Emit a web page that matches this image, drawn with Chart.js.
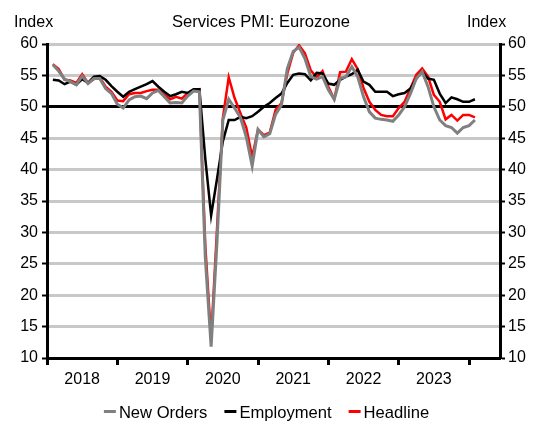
<!DOCTYPE html>
<html>
<head>
<meta charset="utf-8">
<script src="https://cdn.jsdelivr.net/npm/chart.js@4.4.1/dist/chart.umd.min.js"></script>
<style>
html,body{margin:0;padding:0;background:#fff;}
#wrap{width:533px;height:421px;position:relative;}
</style>
</head>
<body>
<div id="wrap"><canvas id="c" width="533" height="421"></canvas></div>
<script>
// ---- Data (monthly, Jan 2018 – Jan 2024) ----
const chartTitle = 'Services PMI: Eurozone';
const unitLabel = 'Index';
const yearLabels = ['2018', '2019', '2020', '2021', '2022', '2023'];
const yTickValues = [10, 15, 20, 25, 30, 35, 40, 45, 50, 55, 60];
const seriesNames = ['New Orders', 'Employment', 'Headline'];

const months = [];
for (let y = 2018; y <= 2024; y++) {
  for (let m = 1; m <= 12; m++) {
    if (y === 2024 && m > 1) break;
    months.push(y + '-' + String(m).padStart(2, '0'));
  }
}

const newOrders = [
  56.7, 55.7, 54.4, 54.0, 53.5, 54.9, 53.7, 54.5, 54.5, 52.9, 52.1, 50.4,
  49.8, 51.1, 51.6, 51.7, 51.3, 52.2, 52.6, 51.6, 50.6, 50.7, 50.6, 51.7,
  52.5, 52.4, 26.0, 11.8, 28.5, 47.9, 51.2, 49.8, 48.3, 45.2, 40.6, 46.4,
  45.2, 45.7, 48.8, 50.3, 56.1, 58.8, 59.5, 57.7, 54.8, 54.4, 54.8, 52.7,
  51.2, 54.5, 54.8, 56.4, 54.8, 51.6, 49.2, 48.2, 48.0, 47.9, 47.7, 48.7,
  50.0, 52.1, 54.5, 55.6, 53.2, 50.0, 47.9, 47.0, 46.7, 45.8, 46.7, 47.0,
  47.9
];
const employment = [
  54.3, 54.2, 53.6, 54.0, 53.5, 54.4, 53.8, 54.8, 54.9, 54.3, 53.3, 52.4,
  51.6, 52.4, 52.8, 53.2, 53.6, 54.1, 53.2, 52.4, 51.7, 52.0, 52.4, 52.2,
  52.8, 52.8, 41.8, 32.7, 38.5, 44.5, 47.9, 47.9, 48.4, 48.2, 48.5, 49.2,
  50.0, 50.6, 51.4, 52.1, 53.8, 55.1, 55.3, 55.2, 54.2, 55.4, 55.3, 53.7,
  53.5, 54.3, 54.8, 55.2, 55.9, 54.0, 53.5, 52.4, 52.4, 52.4, 51.7, 52.0,
  52.2, 52.9, 54.5, 55.6, 54.5, 54.3, 52.1, 50.6, 51.5, 51.2, 50.8, 50.8,
  51.2
];
const headline = [
  56.8, 56.0, 54.3, 54.2, 53.8, 55.2, 53.8, 54.4, 54.7, 53.2, 52.4, 51.0,
  50.9, 52.0, 52.2, 52.2, 52.5, 52.7, 52.7, 51.9, 51.2, 51.6, 51.3, 52.2,
  52.7, 52.8, 28.0, 13.0, 30.5, 48.2, 54.7, 51.4, 49.0, 46.7, 42.0, 46.4,
  45.5, 45.9, 49.5, 50.6, 55.3, 58.6, 59.8, 58.5, 55.8, 54.7, 55.7, 53.2,
  51.2, 55.5, 55.6, 57.6, 56.0, 53.0, 50.8, 49.5, 48.7, 48.5, 48.5, 49.8,
  50.8, 52.9, 55.1, 56.1, 54.8, 51.9, 50.8, 48.0, 48.7, 47.8, 48.7, 48.7,
  48.3
];

// ---- Build chart ----
const FONT = '"Liberation Sans", Arial, Helvetica, sans-serif';
// month label -> position on the linear time axis (end of month)
const monthPos = s => { const [y, m] = s.split('-').map(Number); return y + m / 12; };
const toXY = arr => arr.map((v, i) => ({ x: monthPos(months[i]), y: v }));

const headerAndLegend = {
  id: 'headerAndLegend',
  afterDraw(chart) {
    const ctx = chart.ctx;
    ctx.save();
    ctx.fillStyle = '#000';
    ctx.textBaseline = 'alphabetic';
    ctx.font = '16.6px ' + FONT;
    ctx.textAlign = 'center';
    ctx.fillText(chartTitle, 261, 26.5);
    ctx.font = '16px ' + FONT;
    ctx.textAlign = 'left';
    ctx.fillText(unitLabel, 14, 26.5);
    ctx.fillText(unitLabel, 467, 26.5);

    // legend
    ctx.font = '16.6px ' + FONT;
    const ds = chart.data.datasets;
    const markerW = 12, gapMT = 3, gapItems = 17;
    let total = 0;
    const widths = ds.map(d => ctx.measureText(d.label).width);
    widths.forEach((w, i) => { total += markerW + gapMT + w + (i < ds.length - 1 ? gapItems : 0); });
    let x = 266.5 - total / 2;
    const yBase = 418, yMid = 411.5;
    ds.forEach((d, i) => {
      ctx.strokeStyle = d.borderColor;
      ctx.lineWidth = 3;
      ctx.beginPath();
      ctx.moveTo(x, yMid);
      ctx.lineTo(x + markerW, yMid);
      ctx.stroke();
      x += markerW + gapMT;
      ctx.fillStyle = '#000';
      ctx.fillText(d.label, x, yBase);
      x += widths[i] + gapItems;
    });
    ctx.restore();
  }
};

new Chart(document.getElementById('c'), {
  type: 'line',
  data: {
    datasets: [
      { label: seriesNames[0], data: toXY(newOrders), borderColor: '#808080', backgroundColor: '#808080', borderWidth: 3, pointRadius: 0, yAxisID: 'y' },
      { label: seriesNames[1], data: toXY(employment), borderColor: '#000000', backgroundColor: '#000000', borderWidth: 2.5, pointRadius: 0, yAxisID: 'y' },
      { label: seriesNames[2], data: toXY(headline), borderColor: '#ff0000', backgroundColor: '#ff0000', borderWidth: 2.5, pointRadius: 0, yAxisID: 'y' }
    ]
  },
  options: {
    responsive: false,
    animation: false,
    devicePixelRatio: 1,
    layout: { padding: { top: 44, left: 0, right: 0, bottom: 33 } },
    plugins: {
      legend: { display: false },
      title: { display: false },
      tooltip: { enabled: false }
    },
    scales: {
      x: {
        type: 'linear',
        min: 2018,
        max: 2024.44,
        afterBuildTicks: s => {
          const t = [];
          for (let i = 0; i <= 12; i++) t.push({ value: 2018 + i * 0.5 });
          s.ticks = t;
        },
        ticks: {
          autoSkip: false,
          maxRotation: 0,
          padding: 5,
          color: '#000',
          font: { size: 16, family: FONT },
          callback: v => {
            const idx = Math.round((v - 2018.5));
            return (Math.abs(v - Math.floor(v) - 0.5) < 1e-6 && yearLabels[idx]) ? yearLabels[idx] : '';
          }
        },
        grid: {
          drawOnChartArea: false,
          drawTicks: true,
          tickLength: 7,
          tickWidth: 3,
          tickColor: c => (c.tick && Math.abs(c.tick.value - Math.round(c.tick.value)) < 1e-6) ? '#000' : 'rgba(0,0,0,0)'
        },
        border: { color: '#000', width: 3 },
        afterFit: s => { s.height = 30; }
      },
      y: {
        position: 'left',
        min: 10,
        max: 60,
        afterBuildTicks: s => { s.ticks = yTickValues.map(v => ({ value: v })); },
        ticks: { padding: 4, color: '#000', font: { size: 16, family: FONT } },
        grid: {
          color: c => (c.tick && c.tick.value === 50) ? '#000' : '#c8c8c8',
          lineWidth: 3,
          drawTicks: true,
          tickLength: 5,
          tickWidth: 2,
          tickColor: '#000'
        },
        border: { color: '#000', width: 3 },
        afterFit: s => { s.width = 47; }
      },
      y2: {
        position: 'right',
        min: 10,
        max: 60,
        afterBuildTicks: s => { s.ticks = yTickValues.map(v => ({ value: v })); },
        ticks: { padding: 3, color: '#000', font: { size: 16, family: FONT } },
        grid: {
          drawOnChartArea: false,
          drawTicks: true,
          tickLength: 5,
          tickWidth: 2,
          tickColor: '#000'
        },
        border: { color: '#000', width: 3 },
        afterFit: s => { s.width = 33; }
      }
    }
  },
  plugins: [headerAndLegend]
});
</script>
</body>
</html>
